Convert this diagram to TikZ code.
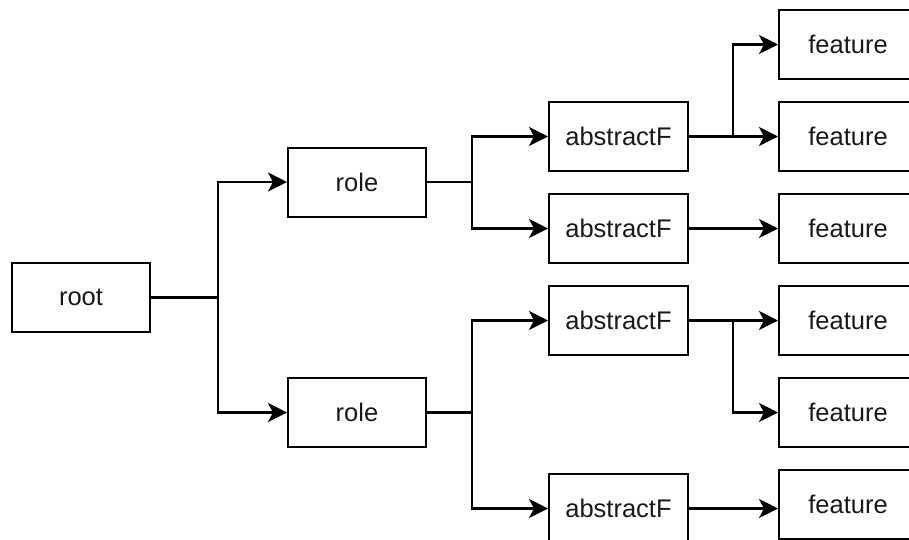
\documentclass[tikz,border=0pt]{standalone}
\usepackage{fontspec}
\setmainfont{Liberation Sans}
\usetikzlibrary{arrows.meta}
\begin{document}
\begin{tikzpicture}[x=1pt,y=-1pt,
  box/.style={draw=black,line width=2pt,fill=white,minimum width=138pt,minimum height=69pt,inner sep=0pt,font=\fontsize{25.5}{30}\selectfont,text=black!90},
  arr/.style={draw=black,line width=2.3pt,-{Stealth[length=19pt,width=19pt,inset=5pt]}},
  ln/.style={draw=black,line width=2.3pt}]
\useasboundingbox (0,0) rectangle (909,539);
\clip (0,0) rectangle (909,539);
\node[box] (root) at (81,297.5) {root};
\node[box] (role1) at (357,182) {role};
\node[box] (role2) at (357,412.5) {role};
\node[box,minimum width=139pt] (a1) at (618.5,136.5) {abstractF};
\node[box,minimum width=139pt] (a2) at (618.5,228.5) {abstractF};
\node[box,minimum width=139pt] (a3) at (618.5,320.5) {abstractF};
\node[box,minimum width=139pt] (a4) at (618.5,508.5) {abstractF};
\node[box] (f1) at (848,44.5) {feature};
\node[box] (f2) at (848,136.5) {feature};
\node[box] (f3) at (848,228.5) {feature};
\node[box] (f4) at (848,320.5) {feature};
\node[box] (f5) at (848,412.5) {feature};
\node[box] (f6) at (848,504.5) {feature};
\coordinate (j1) at (218,297.5);
\coordinate (j2) at (472,182);
\coordinate (j3) at (472,412.5);
\coordinate (j4) at (733,136.5);
\coordinate (j5) at (733,320.5);
\draw[ln] (root.east) -- (j1);
\draw[arr] (j1) |- (role1.west);
\draw[arr] (j1) |- (role2.west);
\draw[ln] (role1.east) -- (j2);
\draw[arr] (j2) |- (a1.west);
\draw[arr] (j2) |- (a2.west);
\draw[ln] (role2.east) -- (j3);
\draw[arr] (j3) |- (a3.west);
\draw[arr] (j3) |- (a4.west);
\draw[arr] (a1.east) -- (f2.west);
\draw[arr] (j4) |- (f1.west);
\draw[arr] (a2.east) -- (f3.west);
\draw[arr] (a3.east) -- (f4.west);
\draw[arr] (j5) |- (f5.west);
\draw[arr] (a4.east) -- (a4.east -| f6.west);
\end{tikzpicture}
\end{document}
